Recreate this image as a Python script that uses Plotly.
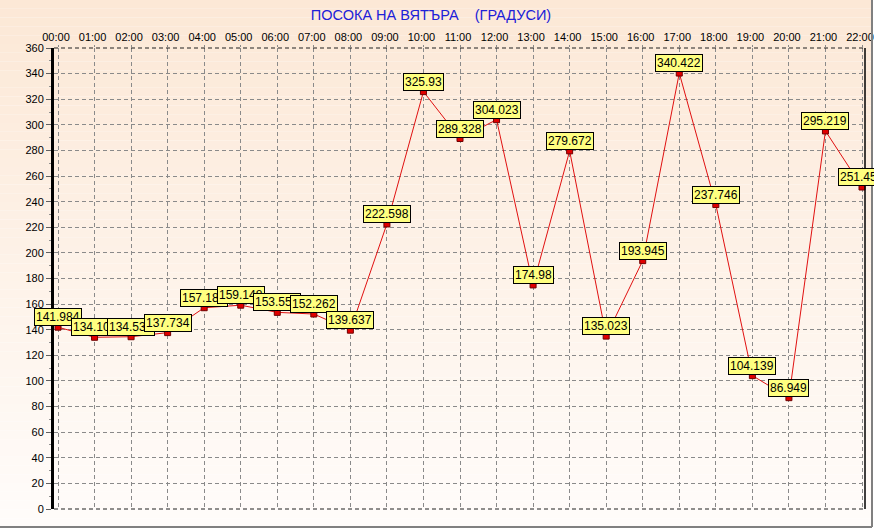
import plotly.graph_objects as go

# wind direction by hour
hours = ["00:00", "01:00", "02:00", "03:00", "04:00", "05:00", "06:00", "07:00",
         "08:00", "09:00", "10:00", "11:00", "12:00", "13:00", "14:00", "15:00",
         "16:00", "17:00", "18:00", "19:00", "20:00", "21:00", "22:00"]
degrees = [141.984, 134.104, 134.532, 137.734, 157.182, 159.148, 153.553, 152.262,
           139.637, 222.598, 325.93, 289.328, 304.023, 174.98, 279.672, 135.023,
           193.945, 340.422, 237.746, 104.139, 86.949, 295.219, 251.453]
y_ticks = list(range(0, 361, 20))

W, H = 874, 529
L, R, T, B = 54, 9, 48, 20
PLOT_H = H - T - B
FONT = "Liberation Sans, Arial, sans-serif"


def py_to_paper(py):
    return (H - B - py) / PLOT_H


def px_to_paper(px):
    return (px - L) / (W - L - R)


def blend(c1, c2, t):
    return "rgb(%d,%d,%d)" % tuple(round(a + (b - a) * t) for a, b in zip(c1, c2))


shapes = []
# background gradient, peach at top fading to near white
top_c, bot_c = (252, 232, 214), (255, 252, 250)
n = 60
bottom_px = 527
for i in range(n):
    y0 = bottom_px * i / n
    y1 = bottom_px * (i + 1) / n
    shapes.append(dict(type="rect", xref="paper", yref="paper",
                       x0=px_to_paper(0), x1=px_to_paper(872),
                       y0=py_to_paper(y1), y1=py_to_paper(y0),
                       fillcolor=blend(top_c, bot_c, i / (n - 1)),
                       line_width=0, layer="below"))

# outer gray frame
shapes.append(dict(type="line", xref="paper", yref="paper",
                   x0=px_to_paper(0), x1=px_to_paper(872),
                   y0=py_to_paper(527), y1=py_to_paper(527),
                   line=dict(color="#808080", width=2)))
shapes.append(dict(type="line", xref="paper", yref="paper",
                   x0=px_to_paper(872), x1=px_to_paper(872),
                   y0=py_to_paper(0), y1=py_to_paper(527),
                   line=dict(color="#808080", width=2)))

# plot frame: dashed top/bottom, solid right
for yy in (0, 1):
    shapes.append(dict(type="line", xref="paper", yref="paper",
                       x0=0, x1=1, y0=yy, y1=yy,
                       line=dict(color="#202020", width=1, dash="4px,3px")))
shapes.append(dict(type="line", xref="paper", yref="paper",
                   x0=1, x1=1, y0=0, y1=1,
                   line=dict(color="black", width=1.5)))

fig = go.Figure()
fig.add_trace(go.Scatter(
    x=list(range(len(hours))), y=degrees,
    mode="lines+markers",
    line=dict(color="#e01010", width=1),
    marker=dict(symbol="square", size=6, color="#e00000",
                line=dict(color="#700000", width=1)),
    hoverinfo="skip",
    cliponaxis=False,
))

annotations = []
for i, v in enumerate(degrees):
    annotations.append(dict(
        x=i, y=v, xref="x", yref="y",
        text=("%.3f" % v).rstrip("0").rstrip("."),
        showarrow=False, yanchor="bottom", xanchor="center", yshift=1,
        font=dict(family=FONT, size=12, color="black"),
        bgcolor="#ffff80", bordercolor="black", borderwidth=1, borderpad=1,
    ))

step = 36.545
fig.update_layout(
    width=W, height=H,
    margin=dict(l=L, r=R, t=T, b=B, pad=0, autoexpand=False),
    paper_bgcolor="white",
    plot_bgcolor="rgba(0,0,0,0)",
    showlegend=False,
    shapes=shapes,
    annotations=annotations,
    title=dict(
        text="ПОСОКА НА ВЯТЪРА\u00a0\u00a0\u00a0\u00a0(ГРАДУСИ)",
        x=431 / W, xanchor="center", xref="container",
        y=1 - 15 / H, yanchor="middle", yref="container",
        font=dict(family=FONT, size=14.5, color="#2020d8"),
    ),
    font=dict(family=FONT, size=11, color="black"),
    xaxis=dict(
        side="top",
        automargin=False,
        range=[-4 / step, 22 + 3 / step],
        tickmode="array",
        tickvals=list(range(len(hours))),
        ticktext=hours,
        ticklabeloverflow="allow",
        ticklabelshift=-2,
        showgrid=True, gridcolor="#8a8a8a", gridwidth=1, griddash="4px,3px",
        zeroline=False, showline=False,
        ticks="outside", ticklen=2, tickcolor="#8a8a8a",
        tickfont=dict(family=FONT, size=11, color="black"),
        fixedrange=True,
    ),
    yaxis=dict(
        automargin=False,
        range=[0, 360],
        tickmode="array",
        tickvals=y_ticks,
        showgrid=True, gridcolor="#8a8a8a", gridwidth=1, griddash="4px,3px",
        zeroline=False,
        showline=True, linecolor="black", linewidth=3,
        ticks="outside", ticklen=5, tickcolor="#606060",
        minor=dict(dtick=10, ticks="outside", ticklen=2, tickcolor="#909090",
                   showgrid=False),
        tickfont=dict(family=FONT, size=11, color="black"),
        fixedrange=True,
    ),
)

fig.write_html("out.html", config={"displayModeBar": False},
               post_script="document.body.style.margin='0';")
